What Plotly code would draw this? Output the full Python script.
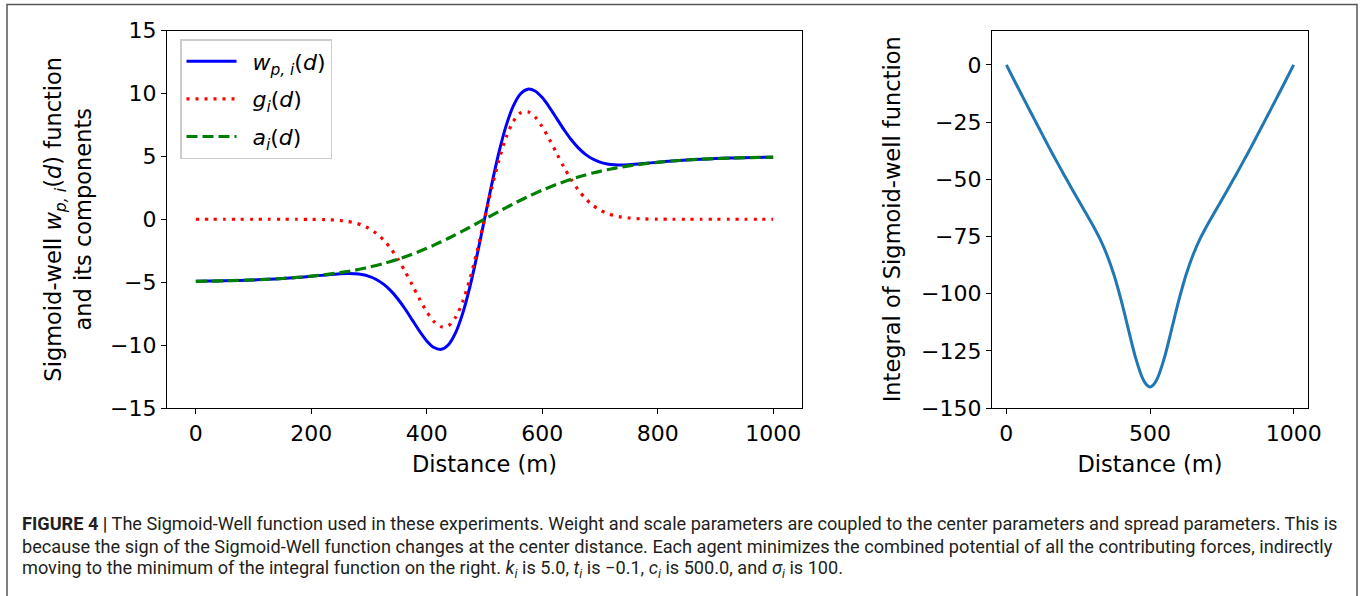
import plotly.graph_objects as go

# ---------------- data ----------------
distance = [0, 25, 50, 75, 100, 125, 150, 175, 200, 225, 250, 262.5, 275, 287.5, 300, 312.5, 325, 337.5, 350,
            362.5, 375, 387.5, 400, 412.5, 425, 437.5, 450, 462.5, 475, 487.5, 500,
            512.5, 525, 537.5, 550, 562.5, 575, 587.5, 600, 612.5, 625, 637.5, 650, 662.5, 675, 687.5, 700,
            712.5, 725, 737.5, 750, 775, 800, 825, 850, 875, 900, 925, 950, 975, 1000]

w_values = [-4.933, -4.914, -4.890, -4.859, -4.820, -4.770, -4.707, -4.627, -4.533, -4.428, -4.338, -4.318,
            -4.332, -4.398, -4.541, -4.785, -5.157, -5.673, -6.338, -7.134, -8.013, -8.895, -9.669, -10.196,
            -10.339, -9.972, -9.013, -7.443, -5.319, -2.773, 0.0,
            2.773, 5.319, 7.443, 9.013, 9.972, 10.339, 10.196, 9.669, 8.895, 8.013, 7.134, 6.338, 5.673,
            5.157, 4.785, 4.541, 4.398, 4.332, 4.318, 4.338, 4.428, 4.533, 4.627, 4.707, 4.770, 4.820,
            4.859, 4.890, 4.914, 4.933]

g_values = [0.0, 0.0, 0.0, 0.0, 0.0, 0.0, 0.0, 0.0, -0.007, -0.029, -0.097, -0.169, -0.285, -0.465, -0.733,
            -1.115, -1.637, -2.318, -3.162, -4.152, -5.240, -6.346, -7.358, -8.138, -8.547, -8.458, -7.788,
            -6.516, -4.697, -2.461, 0.0,
            2.461, 4.697, 6.516, 7.788, 8.458, 8.547, 8.138, 7.358, 6.346, 5.240, 4.152, 3.162, 2.318,
            1.637, 1.115, 0.733, 0.465, 0.285, 0.169, 0.097, 0.029, 0.007, 0.0, 0.0, 0.0, 0.0, 0.0, 0.0,
            0.0, 0.0]

a_values = [-4.933, -4.914, -4.890, -4.859, -4.820, -4.770, -4.707, -4.627, -4.526, -4.399, -4.241, -4.149,
            -4.047, -3.933, -3.808, -3.670, -3.520, -3.355, -3.176, -2.982, -2.773, -2.549, -2.311, -2.058,
            -1.792, -1.514, -1.225, -0.927, -0.622, -0.312, 0.0,
            0.312, 0.622, 0.927, 1.225, 1.514, 1.792, 2.058, 2.311, 2.549, 2.773, 2.982, 3.176, 3.355,
            3.520, 3.670, 3.808, 3.933, 4.047, 4.149, 4.241, 4.399, 4.526, 4.627, 4.707, 4.770, 4.820,
            4.859, 4.890, 4.914, 4.933]

integral_distance = [0, 25, 50, 75, 100, 125, 150, 175, 200, 225, 250, 275, 300, 325, 350, 375, 400, 425,
                     450, 475, 487.5, 500, 512.5, 525, 550, 575, 600, 625, 650, 675, 700, 725, 750, 775,
                     800, 825, 850, 875, 900, 925, 950, 975, 1000]
integral_values = [0.0, -6.2, -12.3, -18.4, -24.4, -30.4, -36.4, -42.2, -47.9, -53.5, -59.0, -64.4,
                   -69.9, -75.9, -83.0, -92.0, -103.1, -115.7, -128.1, -137.3, -139.8,
                   -140.8, -139.8, -137.3, -128.1, -115.7, -103.1, -92.0, -83.0, -75.9, -69.9, -64.4, -59.0,
                   -53.5, -47.9, -42.2, -36.4, -30.4, -24.4, -18.4, -12.3, -6.2, 0.0]

left_xticks = [0, 200, 400, 600, 800, 1000]
left_yticks = [-15, -10, -5, 0, 5, 10, 15]
right_xticks = [0, 500, 1000]
right_yticks = [0, -25, -50, -75, -100, -125, -150]

legend_labels = ["\u2002<i>w</i><sub><i>p, i</i></sub>(<i>d</i>)",
                 "\u2002<i>g</i><sub><i>i</i></sub>(<i>d</i>)",
                 "\u2002<i>a</i><sub><i>i</i></sub>(<i>d</i>)"]

caption_lines = [
    "<b>FIGURE 4 |</b> The Sigmoid-Well function used in these experiments. Weight and scale parameters are coupled to the center parameters and spread parameters. This is",
    "because the sign of the Sigmoid-Well function changes at the center distance. Each agent minimizes the combined potential of all the contributing forces, indirectly",
    "moving to the minimum of the integral function on the right. <i>k<sub>i</sub></i> is 5.0, <i>t<sub>i</sub></i> is −0.1, <i>c<sub>i</sub></i> is 500.0, and <i>σ<sub>i</sub></i> is 100.",
]

# ---------------- figure ----------------
W, H = 1362, 596
FONT = "DejaVu Sans"
TICK_SIZE = 22
TITLE_SIZE = 22.5

fig = go.Figure()

fig.add_trace(go.Scatter(x=distance, y=w_values, mode="lines", name=legend_labels[0], legendgroup="w",
                         line=dict(color="#0000ff", width=3, shape="spline", smoothing=0.8),
                         xaxis="x", yaxis="y"))
fig.add_trace(go.Scatter(x=distance, y=g_values, mode="lines", name=legend_labels[1], legendgroup="g",
                         line=dict(color="#ff0000", width=3.2, dash="3px,6px", shape="spline", smoothing=0.8),
                         xaxis="x", yaxis="y"))
fig.add_trace(go.Scatter(x=distance, y=a_values, mode="lines", name=legend_labels[2], legendgroup="a",
                         line=dict(color="#008000", width=3.2, dash="11px,5px", shape="spline", smoothing=0.8),
                         xaxis="x", yaxis="y"))
fig.add_trace(go.Scatter(x=integral_distance, y=integral_values, mode="lines", showlegend=False,
                         line=dict(color="#1f77b4", width=3, shape="spline", smoothing=0.8),
                         xaxis="x2", yaxis="y2"))

ydom = [1 - 408 / H, 1 - 30.5 / H]
axis_common = dict(showline=True, linecolor="black", linewidth=1.3, mirror=True, ticks="outside",
                   ticklen=5, tickwidth=1.2, tickcolor="black", showgrid=False, zeroline=False,
                   automargin=False, tickfont=dict(family=FONT, size=TICK_SIZE, color="black"))

fig.update_layout(
    width=W, height=H,
    margin=dict(l=0, r=0, t=0, b=0, autoexpand=False),
    paper_bgcolor="white", plot_bgcolor="white",
    font=dict(family=FONT, color="black"),
    xaxis=dict(domain=[167 / W, 802 / W], range=[-50, 1050], tickvals=left_xticks,
               title=dict(text="Distance (m)", font=dict(family=FONT, size=TITLE_SIZE), standoff=11),
               anchor="y", **axis_common),
    yaxis=dict(domain=ydom, range=[-15, 15], tickvals=left_yticks,
               title=dict(text="Sigmoid-well <i>w</i><sub><i>p, i</i></sub>(<i>d</i>) function<br>and its components",
                          font=dict(family=FONT, size=TITLE_SIZE), standoff=12),
               anchor="x", **axis_common),
    xaxis2=dict(domain=[992 / W, 1308 / W], range=[-50, 1050], tickvals=right_xticks,
                title=dict(text="Distance (m)", font=dict(family=FONT, size=TITLE_SIZE), standoff=11),
                anchor="y2", **axis_common),
    yaxis2=dict(domain=ydom, range=[-150, 15], tickvals=right_yticks,
                title=dict(text="Integral of Sigmoid-well function", font=dict(family=FONT, size=TITLE_SIZE),
                           standoff=14),
                anchor="x2", **axis_common),
    legend=dict(x=180 / W, y=1 - 39 / H, xanchor="left", yanchor="top",
                bgcolor="rgba(255,255,255,0.85)", bordercolor="#cccccc", borderwidth=1.5,
                font=dict(family=FONT, size=22, color="black"),
                traceorder="grouped", tracegroupgap=6, itemwidth=50),
    showlegend=True,
)

# outer frame
fig.add_shape(type="rect", xref="paper", yref="paper", x0=7 / W, x1=1357 / W, y0=-0.05, y1=1 - 4.5 / H,
              line=dict(color="#555555", width=1.5), fillcolor="rgba(0,0,0,0)", layer="above")

# caption
cap_font = dict(family="Roboto, Liberation Sans, sans-serif", size=18.15, color="#231f20")
for i, line in enumerate(caption_lines):
    fig.add_annotation(text=line, xref="paper", yref="paper", x=20 / W, y=1 - (523 + 23 * i) / H,
                       xanchor="left", yanchor="middle", showarrow=False, font=cap_font, align="left")

fig.write_html("out.html", config={"displayModeBar": False},
               post_script="document.body.style.margin='0px';document.body.style.overflow='hidden';")
